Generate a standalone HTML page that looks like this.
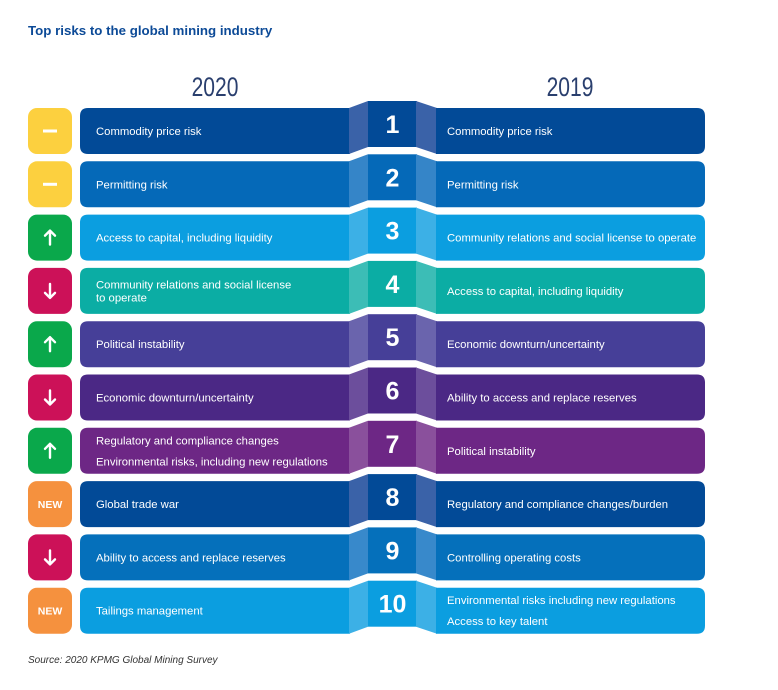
<!DOCTYPE html>
<html><head><meta charset="utf-8"><style>
body{margin:0;background:#fff;width:778px;height:685px;overflow:hidden;font-family:"Liberation Sans",sans-serif}
</style></head><body>
<svg id="chart" width="778" height="685" xmlns="http://www.w3.org/2000/svg">
<text x="28" y="35" font-family="Liberation Sans" font-weight="bold" font-size="13.3" fill="#0c4a97">Top risks to the global mining industry</text>
<text x="215" y="96" text-anchor="middle" font-family="Liberation Sans Narrow, Liberation Sans" font-size="27" fill="#2a3f6e" transform="translate(215,0) scale(0.78,1) translate(-215,0)">2020</text>
<text x="570" y="96" text-anchor="middle" font-family="Liberation Sans Narrow, Liberation Sans" font-size="27" fill="#2a3f6e" transform="translate(570,0) scale(0.78,1) translate(-570,0)">2019</text>
<g id="rows"></g>
<text x="28" y="663" font-family="Liberation Sans" font-style="italic" font-size="10" fill="#333">Source: 2020 KPMG Global Mining Survey</text>
</svg>
<script>
const ranks = [1,2,3,4,5,6,7,8,9,10];
const risks2020 = [["Commodity price risk"],["Permitting risk"],["Access to capital, including liquidity"],["Community relations and social license","to operate"],["Political instability"],["Economic downturn/uncertainty"],["Regulatory and compliance changes","Environmental risks, including new regulations"],["Global trade war"],["Ability to access and replace reserves"],["Tailings management"]];
const risks2019 = [["Commodity price risk"],["Permitting risk"],["Community relations and social license to operate"],["Access to capital, including liquidity"],["Economic downturn/uncertainty"],["Ability to access and replace reserves"],["Political instability"],["Regulatory and compliance changes/burden"],["Controlling operating costs"],["Environmental risks including new regulations","Access to key talent"]];
const changes = ["same","same","up","down","up","down","up","new","down","new"];
const rowColors = ["#024a97","#0569b8","#0b9ee0","#0bada4","#463f98","#4b2885","#6d2785","#024a97","#0570bb","#0b9ee0"];
const foldColors = ["#3a62a8","#3585c8","#3cb0e6","#3cbdb6","#6a64ad","#6c4e9c","#8a509c","#3a62a8","#3889cb","#3cb0e6"];
const badgeColors = {same:"#fcd03f",up:"#0aa84b",down:"#cc1158",new:"#f5913e"};
const NS="http://www.w3.org/2000/svg";
const g=document.getElementById('rows');
function rowY(i){return 108+i*53.3;}
function mk(tag,attrs,parent){const e=document.createElementNS(NS,tag);for(const k in attrs)e.setAttribute(k,attrs[k]);(parent||g).appendChild(e);return e;}
ranks.forEach((r,i)=>{
  const y=rowY(i),h=46,c=rowColors[i],f=foldColors[i];
  const grp=mk('g',{});
  
  
  const b=mk('rect',{x:28,y:y,width:44,height:h,rx:9,fill:badgeColors[changes[i]]},grp);
  
  
  const cx=50,cy=y+h/2;
  if(changes[i]==='same'){mk('rect',{x:cx-7,y:cy-1.5,width:14,height:3,fill:'#fff'},grp);}
  else if(changes[i]==='new'){const t=mk('text',{x:cx,y:cy+4,'text-anchor':'middle','font-size':10.5,'font-weight':'bold',fill:'#fff','font-family':'Liberation Sans'},grp);t.textContent='NEW';}
  else{const up=changes[i]==='up';const d=up?-1:1;
    mk('path',{d:`M${cx} ${cy-7*d} L${cx} ${cy+7*d} M${cx-5} ${cy+2*d} L${cx} ${cy+7*d} L${cx+5} ${cy+2*d}`,stroke:'#fff','stroke-width':2.4,fill:'none','stroke-linecap':'round','stroke-linejoin':'round'},grp);}
  const lb=mk('path',{d:`M${80+8} ${y} L350 ${y} L350 ${y+h} L88 ${y+h} Q80 ${y+h} 80 ${y+h-8} L80 ${y+8} Q80 ${y} 88 ${y} Z`,fill:c},grp);
  
  
  mk('path',{d:`M349 ${y} L368 ${y-7} L368 ${y+h-7} L349 ${y+h} Z`,fill:f},grp);
  mk('rect',{x:368,y:y-7,width:49,height:h,fill:c},grp);
  mk('path',{d:`M416 ${y-7} L437 ${y} L437 ${y+h} L416 ${y+h-7} Z`,fill:f},grp);
  const rb=mk('path',{d:`M436 ${y} L697 ${y} Q705 ${y} 705 ${y+8} L705 ${y+h-8} Q705 ${y+h} 697 ${y+h} L436 ${y+h} Z`,fill:c},grp);
  
  
  const rt=mk('text',{x:392.5,y:y+h/2+2,'text-anchor':'middle','font-size':25,'font-weight':'bold',fill:'#fff','font-family':'Liberation Sans'},grp);
  rt.textContent=r;
  
  
  [[risks2020[i],96],[risks2019[i],447]].forEach(([lines,x])=>{
    const n=lines.length;
    const gap=(x===96&&i===3)?13:21;
    lines.forEach((s,k)=>{
      const ty=y+h/2+4+(k-(n-1)/2)*gap;
      const t=mk('text',{x:x,y:ty,'font-size':11.3,fill:'#fff','font-family':'Liberation Sans'},grp);
      t.textContent=s;
      
      
    });
  });
});
</script>
</body></html>
